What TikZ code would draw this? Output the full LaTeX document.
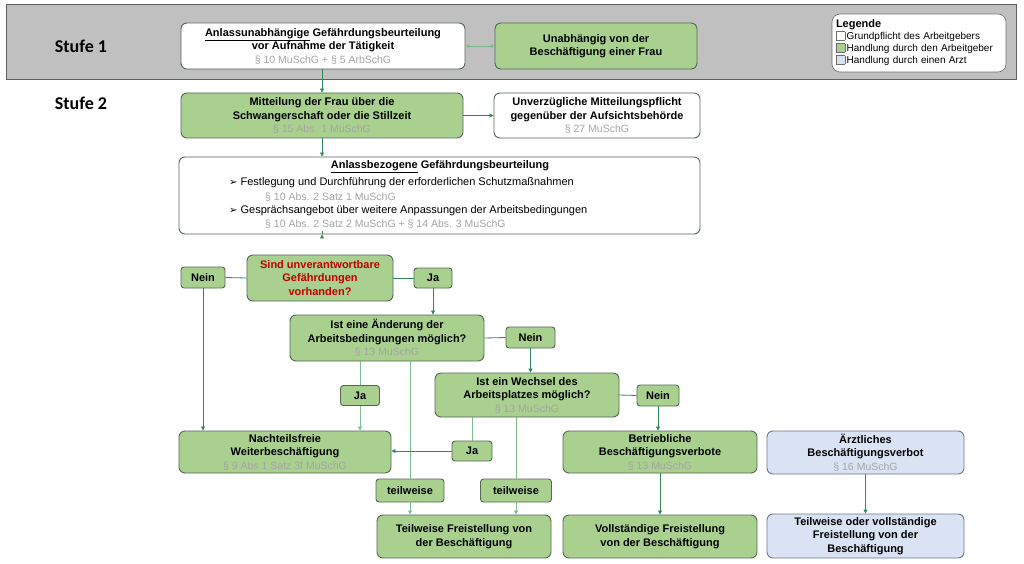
\documentclass[tikz,border=0pt]{standalone}
\usepackage{fontspec}
\setmainfont{Liberation Sans}
\newfontfamily\calib{Carlito}
\newfontfamily\dejavu{DejaVu Sans}
\usetikzlibrary{arrows.meta}
\definecolor{boxgreen}{RGB}{169,208,142}
\definecolor{boxborder}{RGB}{84,104,84}
\definecolor{conngreen}{RGB}{46,139,87}
\definecolor{lightconn}{RGB}{125,188,145}
\definecolor{lawgray}{RGB}{165,165,165}
\definecolor{bandgray}{RGB}{192,192,192}
\definecolor{bandline}{RGB}{95,95,95}
\definecolor{bluefill}{RGB}{218,227,243}
\definecolor{blueborder}{RGB}{110,120,140}
\definecolor{qred}{RGB}{192,0,0}
\definecolor{legbord}{RGB}{110,110,110}
\newcommand\lawtxt[1]{{\mdseries\color{lawgray}\fontsize{10.5}{13}\selectfont #1}}
\newcommand\legsq[1]{{\setlength{\fboxsep}{0pt}\setlength{\fboxrule}{0.5pt}\fcolorbox{legbord}{#1}{\rule{0pt}{8pt}\hspace{8pt}}}}
\newcommand\bul{{\dejavu\fontsize{10}{12}\selectfont ➢}}
\tikzset{
  box/.style={draw=boxborder, line width=0.9pt, rounded corners=6pt, align=center, inner sep=1pt, font=\fontsize{11}{13.5}\selectfont\bfseries},
  gbox/.style={box, fill=boxgreen},
  wbox/.style={box, fill=white},
  bbox/.style={box, fill=bluefill, draw=blueborder},
  lbl/.style={gbox, rounded corners=3pt},
  arr/.style={-{Triangle[length=4pt,width=4pt]}, conngreen, line width=0.8pt},
  ln/.style={conngreen, line width=0.8pt},
  lln/.style={lightconn, line width=0.8pt},
  lnarr/.style={lln, -{Triangle[length=4pt,width=4pt]}},
  stufe/.style={font=\calib\fontsize{18}{21}\selectfont\bfseries},
  etext/.style={anchor=west, font=\fontsize{11}{13}\selectfont, inner sep=0pt},
}
\begin{document}
\begin{tikzpicture}[x=1pt,y=-1pt]
\useasboundingbox (0,0) rectangle (1024,564);
\filldraw[fill=bandgray, draw=bandline, line width=1pt] (6,5) rectangle (1016,80);
\node[stufe] (s1) at (81,46) {Stufe 1};
\node[stufe] (s2) at (81,103) {Stufe 2};

\node[wbox, minimum width=284, minimum height=46] (A) at (323,46) {\underline{Anlassunabhängige} Gefährdungsbeurteilung\\vor Aufnahme der Tätigkeit\\\lawtxt{§ 10 MuSchG + § 5 ArbSchG}};
\node[gbox, minimum width=202, minimum height=46] (B) at (596,46) {Unabhängig von der\\Beschäftigung einer Frau};
\node[draw=legbord, fill=white, line width=0.6pt, rounded corners=8pt, minimum width=174, minimum height=58, align=left, text width=166pt, inner sep=3pt, font=\fontsize{10}{12}\selectfont] (leg) at (919,43) {\textbf{\fontsize{11}{12}\selectfont Legende}\\\legsq{white}\,Grundpflicht des Arbeitgebers\\\legsq{boxgreen}\,Handlung durch den Arbeitgeber\\\legsq{bluefill}\,Handlung durch einen Arzt};

\node[gbox, minimum width=282, minimum height=45] (C) at (322,115.5) {Mitteilung der Frau über die\\Schwangerschaft oder die Stillzeit\\\lawtxt{§ 15 Abs. 1 MuSchG}};
\node[wbox, minimum width=206, minimum height=45] (D) at (597,115.5) {Unverzügliche Mitteilungspflicht\\gegenüber der Aufsichtsbehörde\\\lawtxt{§ 27 MuSchG}};

\node[wbox, minimum width=521, minimum height=77] (E) at (439.5,195.5) {};
\node[font=\fontsize{11}{13}\selectfont\bfseries, inner sep=0pt] (eh) at (440,167) {\underline{Anlassbezogene} Gefährdungsbeurteilung};
\node[etext] (e1) at (229,183) {\bul\ Festlegung und Durchführung der erforderlichen Schutzmaßnahmen};
\node[etext] (e2) at (265,197) {\lawtxt{§ 10 Abs. 2 Satz 1 MuSchG}};
\node[etext] (e3) at (229,211) {\bul\ Gesprächsangebot über weitere Anpassungen der Arbeitsbedingungen};
\node[etext] (e4) at (265,224) {\lawtxt{§ 10 Abs. 2 Satz 2 MuSchG + § 14 Abs. 3 MuSchG}};

\node[gbox, minimum width=146, minimum height=46, text=qred] (Q1) at (320,278) {Sind unverantwortbare\\Gefährdungen\\vorhanden?};
\node[lbl, minimum width=44, minimum height=21] (N1) at (203,277.5) {Nein};
\node[lbl, minimum width=38, minimum height=20] (J1) at (433,278) {Ja};
\node[gbox, minimum width=194, minimum height=46] (Q2) at (387,338) {Ist eine Änderung der\\Arbeitsbedingungen möglich?\\\lawtxt{§ 13 MuSchG}};
\node[lbl, minimum width=49, minimum height=21] (N2) at (530.5,337.5) {Nein};
\node[lbl, minimum width=39, minimum height=20] (J2) at (360,395.5) {Ja};
\node[gbox, minimum width=184, minimum height=44] (Q3) at (527,395) {Ist ein Wechsel des\\Arbeitsplatzes möglich?\\\lawtxt{§ 13 MuSchG}};
\node[lbl, minimum width=42, minimum height=21] (N3) at (658,395.5) {Nein};
\node[lbl, minimum width=40, minimum height=20] (J3) at (472,451) {Ja};
\node[gbox, minimum width=212, minimum height=42] (N) at (285,452) {Nachteilsfreie\\Weiterbeschäftigung\\\lawtxt{§ 9 Abs 1 Satz 3f MuSchG}};
\node[lbl, minimum width=68, minimum height=23] (TW1) at (410,490.5) {teilweise};
\node[lbl, minimum width=71, minimum height=23] (TW2) at (516,490.5) {teilweise};
\node[gbox, minimum width=174, minimum height=43] (T) at (464,536.5) {Teilweise Freistellung von\\der Beschäftigung};
\node[gbox, minimum width=194, minimum height=42] (BV) at (660,452) {Betriebliche\\Beschäftigungsverbote\\\lawtxt{§ 13 MuSchG}};
\node[gbox, minimum width=194, minimum height=43] (V) at (660,536.5) {Vollständige Freistellung\\von der Beschäftigung};
\node[bbox, minimum width=197, minimum height=43] (AZ) at (865.5,452.5) {Ärztliches\\Beschäftigungsverbot\\\lawtxt{§ 16 MuSchG}};
\node[bbox, minimum width=197, minimum height=44] (TV) at (865.5,536) {Teilweise oder vollständige\\Freistellung von der\\Beschäftigung};

% connectors
\draw[{Triangle[length=4pt,width=4pt]}-{Triangle[length=4pt,width=4pt]}, lightconn, line width=0.8pt] (A.east) -- (B.west);
\draw[arr] (A.south -| C) -- (C.north);
\draw[arr] (C.east) -- (D.west);
\draw[arr] (C.south) -- (C.south |- E.north);
\draw[arr] (E.south -| C) -- (E.south -| C |- Q1.north);
\draw[ln] (Q1.west) -- (N1.east);
\draw[ln] (Q1.east) -- (J1.west);
\draw[arr] (J1.south) -- (J1.south |- Q2.north);
\draw[arr] (N1.south) -- (N1.south |- N.north);
\draw[ln] (Q2.east) -- (N2.west);
\draw[arr] (N2.south) -- (N2.south |- Q3.north);
\draw[lln] (J2.north |- Q2.south) -- (J2.north);
\draw[lnarr] (J2.south) -- (J2.south |- N.north);
\draw[lln] (TW1.north |- Q2.south) -- (TW1.north);
\draw[lnarr] (TW1.south) -- (TW1.south |- T.north);
\draw[lln] (J3.north |- Q3.south) -- (J3.north);
\draw[arr] (J3.west) -- (J3.west -| N.east);
\draw[lln] (TW2.north |- Q3.south) -- (TW2.north);
\draw[lnarr] (TW2.south) -- (TW2.south |- T.north);
\draw[ln] (Q3.east) -- (N3.west);
\draw[arr] (N3.south) -- (N3.south |- BV.north);
\draw[arr] (BV.south) -- (V.north);
\draw[arr] (AZ.south) -- (TV.north);
\end{tikzpicture}
\end{document}
